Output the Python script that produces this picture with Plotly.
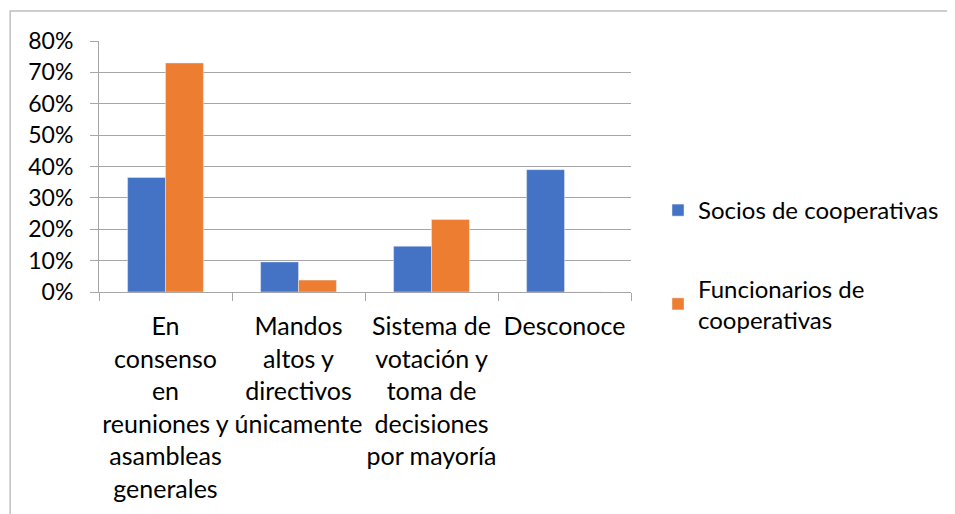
import plotly.graph_objects as go

# categories and values
categorias = [
    "En<br>consenso<br>en<br>reuniones y<br>asambleas<br>generales",
    "Mandos<br>altos y<br>directivos<br>únicamente",
    "Sistema de<br>votación y<br>toma de<br>decisiones<br>por mayoría",
    "Desconoce",
]
socios = [0.365, 0.096, 0.146, 0.39]
funcionarios = [0.73, 0.038, 0.231, 0.0]

AZUL = "#4472c4"
NARANJA = "#ed7d31"
GRIS = "#a6a6a6"
FUENTE = "Lato, Open Sans, sans-serif"

fig = go.Figure()
fig.add_trace(go.Bar(x=categorias, y=socios, name="Socios de cooperativas",
                     marker_color=AZUL, legendgroup="a"))
fig.add_trace(go.Bar(x=categorias, y=funcionarios, name="Funcionarios de<br>cooperativas",
                     marker_color=NARANJA, legendgroup="b"))

# page has an 8px body margin; target plot area on screen: x 99..632, y 41..292
OFF = 8
W, H = 955 - OFF, 514 - OFF
L, R, T, B = 99, 632, 41, 292
px = lambda x: (x - L) / (R - L)
py = lambda y: (B - y) / (B - T)

fig.update_layout(
    width=W, height=H,
    margin=dict(l=L - OFF, r=W - (R - OFF), t=T - OFF, b=H - (B - OFF)),
    plot_bgcolor="white", paper_bgcolor="white",
    font=dict(family=FUENTE, size=24, color="#000000"),
    barmode="group", bargap=0.43, bargroupgap=0,
    showlegend=True,
    legend=dict(x=px(658), y=py(188), xanchor="left", yanchor="top",
                traceorder="grouped", tracegroupgap=44,
                font=dict(size=24), bgcolor="rgba(0,0,0,0)"),
    xaxis=dict(showline=True, linecolor=GRIS, linewidth=1,
               ticks="outside", tickson="boundaries", ticklen=8, tickcolor=GRIS,
               tickangle=0, showgrid=False, tickfont=dict(size=25),
               ticklabelstandoff=12),
    yaxis=dict(range=[0, 0.8], dtick=0.1, tickformat=".0%",
               showline=True, linecolor=GRIS, linewidth=1,
               ticks="outside", ticklen=8, tickcolor=GRIS, tickfont=dict(size=23),
               ticklabelstandoff=12,
               showgrid=True, gridcolor=GRIS, gridwidth=1, zeroline=False),
    shapes=[dict(type="path", xref="paper", yref="paper",
                 path=f"M {px(10)} {py(520)} L {px(10)} {py(11)} L {px(970)} {py(11)}",
                 line=dict(color="#bfbfbf", width=1.5))],
)

fig.write_html("out.html")
